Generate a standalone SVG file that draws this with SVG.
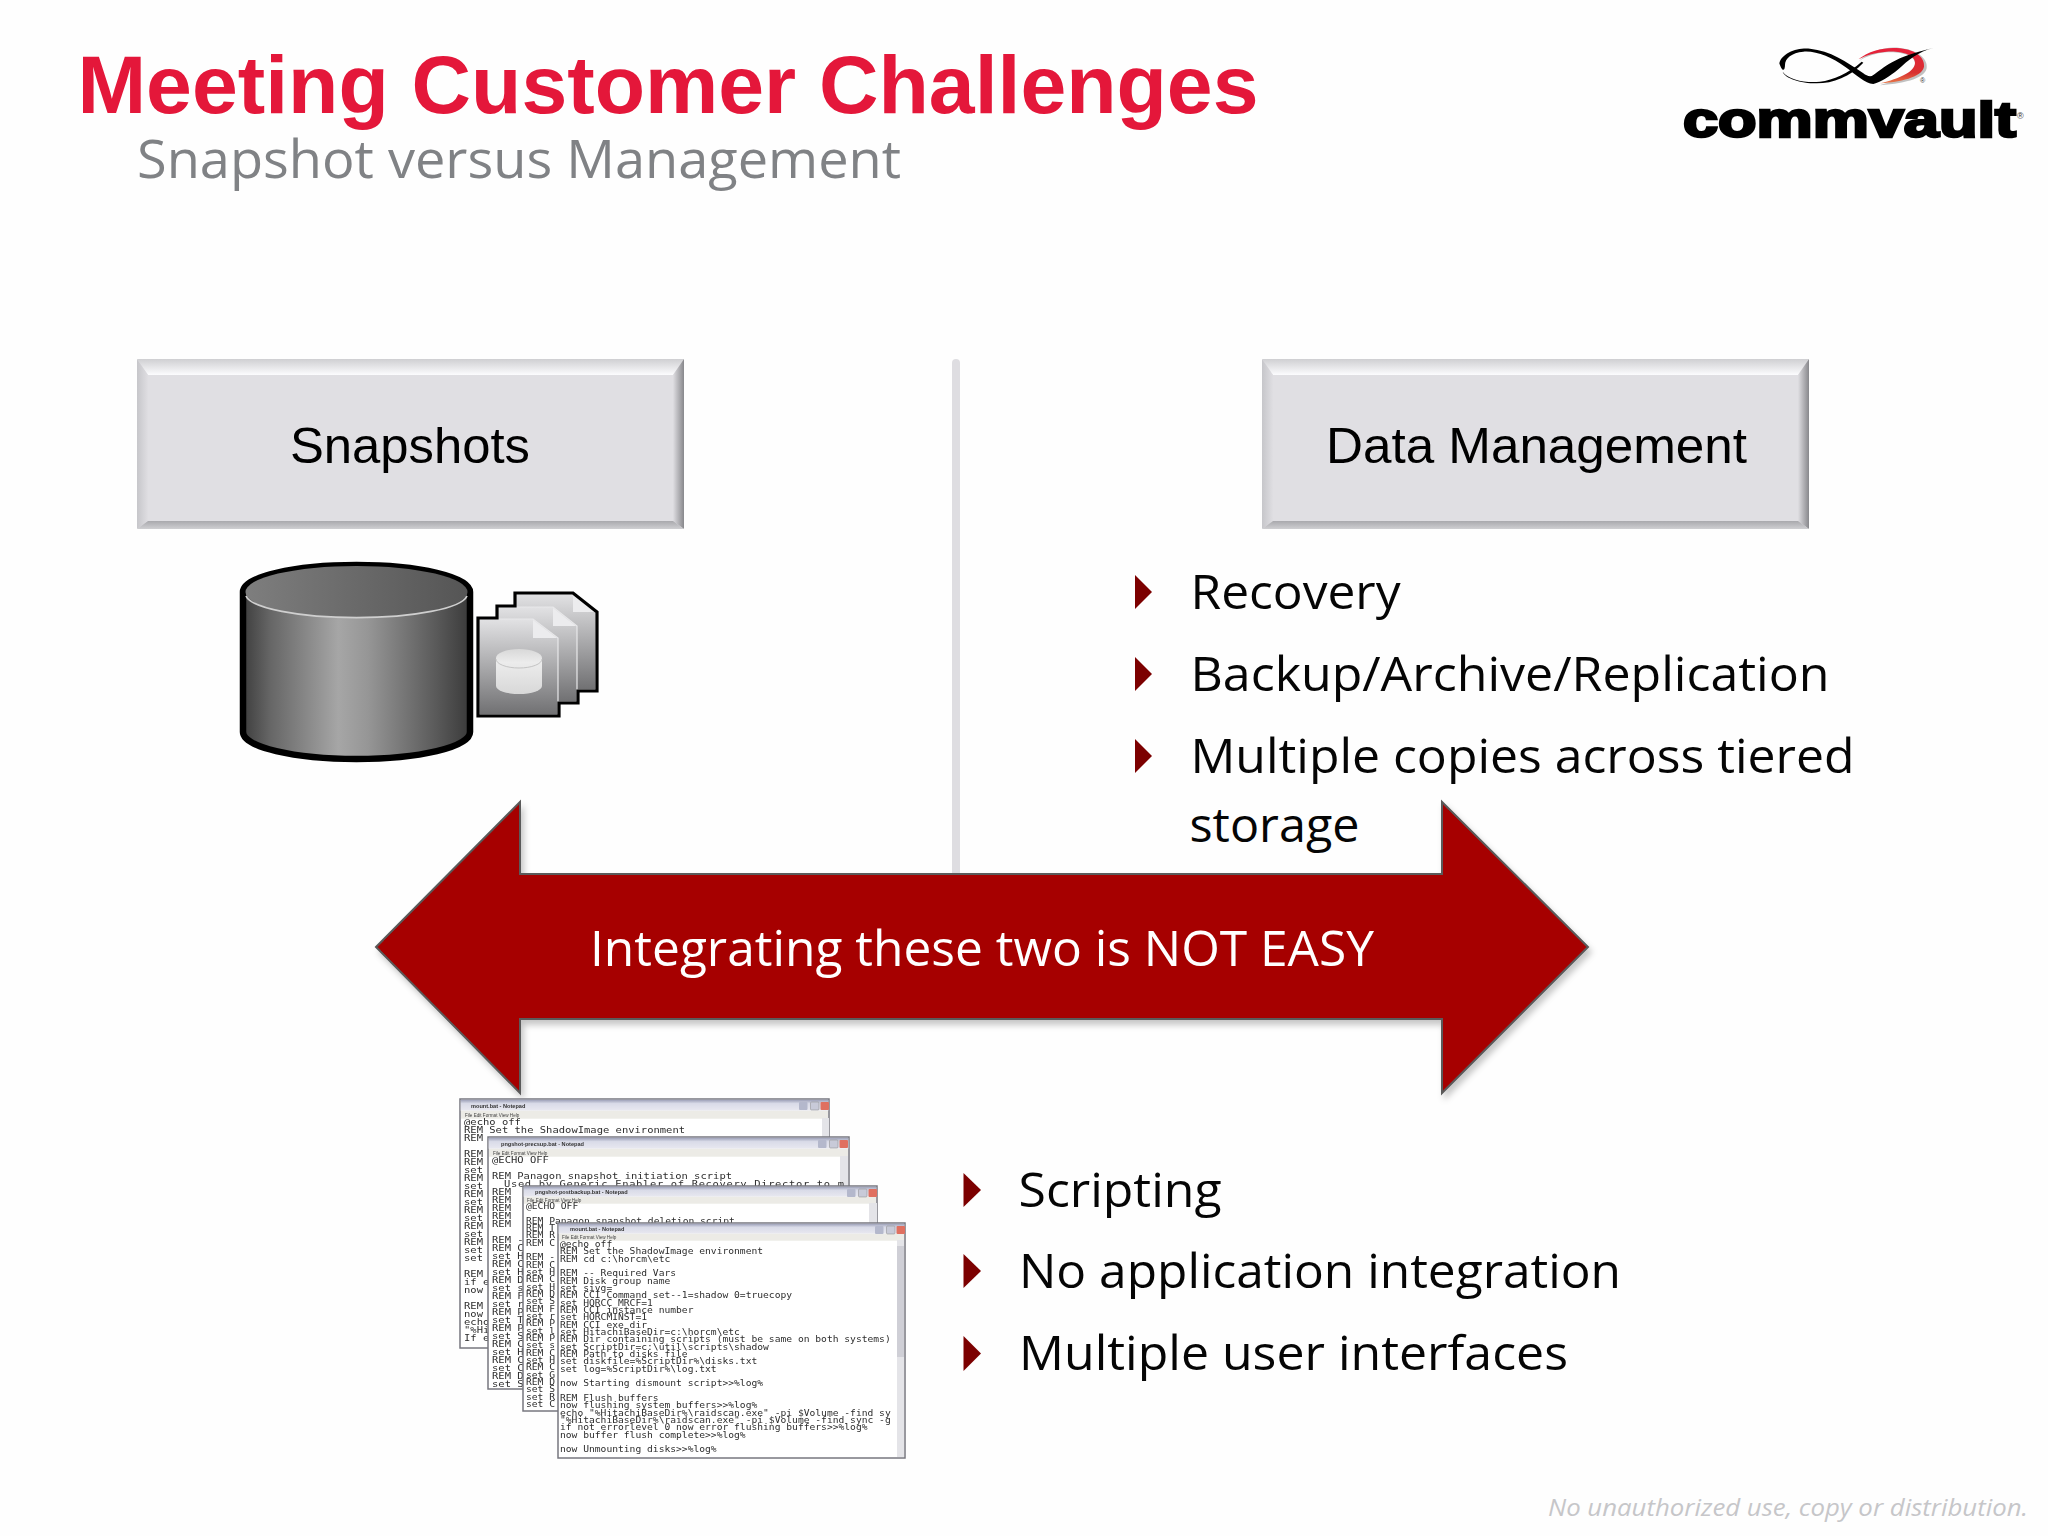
<svg xmlns="http://www.w3.org/2000/svg" width="2048" height="1536" viewBox="0 0 2048 1536">
<style>
.ar{font-family:"Liberation Sans",Arial,sans-serif}
.os{font-family:"Open Sans","Noto Sans",sans-serif}
.bul{font-size:47px;fill:#050505}
.boxt{font-size:50.5px;fill:#000}
.tri{fill:#7c0000}
.mono{font-family:"DejaVu Sans Mono","Liberation Mono",monospace;fill:#2e2e2e}
.wbody{fill:#fff;stroke:#77777f;stroke-width:1.5}
.ttl{font-family:"Liberation Sans",sans-serif;font-size:5.6px;font-weight:bold;fill:#333}
.menu{font-family:"Liberation Sans",sans-serif;font-size:4.6px;fill:#444}
.sb{fill:#e4e4e8}
.doc{fill:url(#docg);stroke:#e8e8ea;stroke-width:1.2}
.fold{fill:#ececee}
</style>
<defs>
<linearGradient id="tb" x1="0" y1="0" x2="0" y2="1"><stop offset="0" stop-color="#9a9eb6"/><stop offset=".35" stop-color="#d9dbe8"/><stop offset="1" stop-color="#e8e8f0"/></linearGradient>
<linearGradient id="bt" x1="0" y1="0" x2="0" y2="1"><stop offset="0" stop-color="#cfcfd2"/><stop offset="1" stop-color="#fcfcfe"/></linearGradient>
<linearGradient id="bl" x1="0" y1="0" x2="1" y2="0"><stop offset="0" stop-color="#c6c6ca"/><stop offset="1" stop-color="#dfdee2"/></linearGradient>
<linearGradient id="br" x1="0" y1="0" x2="1" y2="0"><stop offset="0" stop-color="#dfdee2"/><stop offset="1" stop-color="#88888c"/></linearGradient>
<linearGradient id="bb" x1="0" y1="0" x2="0" y2="1"><stop offset="0" stop-color="#a9a9ad"/><stop offset="1" stop-color="#cfcfd2"/></linearGradient>
<linearGradient id="cyl" x1="0" y1="0" x2="1" y2="0"><stop offset="0" stop-color="#3e3e3e"/><stop offset=".12" stop-color="#666"/><stop offset=".42" stop-color="#a6a6a6"/><stop offset=".55" stop-color="#969696"/><stop offset=".85" stop-color="#5a5a5a"/><stop offset="1" stop-color="#3a3a3a"/></linearGradient>
<linearGradient id="cyt" x1="0" y1="0" x2="1" y2="0"><stop offset="0" stop-color="#7e7e7e"/><stop offset="1" stop-color="#555"/></linearGradient>
<linearGradient id="docg" x1="0" y1="0" x2="0" y2="1"><stop offset="0" stop-color="#e2e2e4"/><stop offset="1" stop-color="#707072"/></linearGradient>
<linearGradient id="mini" x1="0" y1="0" x2="0" y2="1"><stop offset="0" stop-color="#d8d8d8"/><stop offset=".3" stop-color="#ececec"/><stop offset="1" stop-color="#d8d8d8"/></linearGradient>
<linearGradient id="red" x1="0" y1="0" x2="0" y2="1"><stop offset="0" stop-color="#e8203c"/><stop offset=".7" stop-color="#d83030"/><stop offset="1" stop-color="#e87848"/></linearGradient>
<filter id="sh" x="-5%" y="-5%" width="110%" height="112%"><feDropShadow dx="3" dy="5" stdDeviation="3" flood-color="#000" flood-opacity=".22"/></filter>
<filter id="soft" x="-2%" y="-2%" width="104%" height="104%"><feGaussianBlur stdDeviation=".35"/></filter>
<filter id="lb" x="-20%" y="-20%" width="140%" height="140%"><feGaussianBlur stdDeviation="2"/></filter>
<g id="bevel">
<rect width="547" height="170" rx="3" fill="#e0dfe3"/>
<polygon points="0,0 547,0 536,16 11,16" fill="url(#bt)"/>
<polygon points="0,0 11,16 11,162 0,170" fill="url(#bl)"/>
<polygon points="547,0 536,16 536,162 547,170" fill="url(#br)"/>
<polygon points="0,170 11,162 536,162 547,170" fill="url(#bb)"/>
</g>
<g id="btns">
<rect x="-30" y="3" width="8.5" height="8" rx="1" fill="#b4b8cc"/>
<rect x="-18.500" y="3" width="8.500" height="8" rx="1" fill="#c8cad8" stroke="#888" stroke-width=".5"/>
<rect x="-8.500" y="3" width="8.500" height="8" rx="1" fill="#e07060"/>
</g>
</defs>
<rect width="2048" height="1536" fill="#fefefe"/>

<g id="title">
<text class="ar" x="77.500" y="112.500" font-size="82" font-weight="bold" fill="#e4173a" textLength="1181" lengthAdjust="spacingAndGlyphs">Meeting Customer Challenges</text>
<text class="os" x="137" y="178" font-size="53" fill="#808285" textLength="764" lengthAdjust="spacingAndGlyphs">Snapshot versus Management</text>
</g>

<g id="logo">
<g transform="translate(1600 20) scale(.33333)">
<path d="M775 125C810 92 860 78 900 84C955 90 985 118 980 145C975 172 925 190 840 196C900 178 945 158 945 130C945 107 905 94 860 97C825 100 800 108 775 125Z" fill="#999" filter="url(#lb)" opacity=".6"/>
<path d="M775 118C810 90 860 80 900 85C950 90 975 115 972 140C968 165 920 185 840 190C900 175 945 155 945 128C945 105 905 92 860 95C825 98 800 105 775 118Z" fill="url(#red)"/>
<path d="M548 155C565 180 620 190 660 185C700 180 745 160 785 125L790 128C750 170 700 190 650 190C600 190 555 175 548 155Z" fill="#000"/>
<path d="M538 130C545 100 590 82 630 86C690 92 740 125 790 160C800 168 812 172 820 165C850 145 880 110 1000 84C955 95 925 120 895 148C868 170 845 185 820 192C795 190 770 165 735 140C695 112 650 92 610 95C575 98 555 115 555 135C555 150 548 160 538 130Z" fill="#000"/>
</g>
<text class="ar" x="1683" y="136.500" font-size="50" font-weight="bold" fill="#000" stroke="#000" stroke-width="2.600" textLength="333" lengthAdjust="spacingAndGlyphs">commvault</text>
<text class="ar" x="2017" y="119" font-size="9" fill="#333">®</text>
<text class="ar" x="1920" y="83" font-size="7" fill="#333">®</text>
</g>

<g id="connectors">
<rect x="952" y="359" width="8" height="520" rx="4" fill="#dedde1"/>
</g>

<g id="node-snapshots">
<use href="#bevel" x="137" y="359"/>
<text class="ar boxt" x="290" y="463" textLength="240" lengthAdjust="spacingAndGlyphs">Snapshots</text>
</g>

<g id="node-data-management">
<use href="#bevel" x="1262" y="359"/>
<text class="ar boxt" x="1326" y="463" textLength="421" lengthAdjust="spacingAndGlyphs">Data Management</text>
</g>

<g id="storage-icon">
<path d="M243 592A113.500 27 0 0 1 470 592V732A113.500 27 0 0 1 243 732Z" fill="url(#cyl)" stroke="#000" stroke-width="6.500"/>
<ellipse cx="356.500" cy="592" rx="111" ry="26" fill="url(#cyt)"/>
<path d="M246 596A111 24 0 0 0 467 596" fill="none" stroke="#cfcfcf" stroke-width="1.800"/>
<path d="M515 593H573L597 612V691H578V703H559V716H478V618H497V606H515Z" fill="#777"/>
<path class="doc" d="M515 594H573L596 612V690H515Z"/>
<polygon class="fold" points="573,595 595,612 573,612"/>
<path class="doc" d="M497 607H553L577 626V702H497Z"/>
<polygon class="fold" points="553,608 576,626 553,626"/>
<path class="doc" d="M479 619H533L558 638V715H479Z"/>
<polygon class="fold" points="533,620 557,638 533,638"/>
<path d="M496 658A23 9 0 0 1 542 658V686A23 8 0 0 1 496 686Z" fill="url(#mini)"/>
<path d="M496 659A23 9 0 0 0 542 659" fill="none" stroke="#c4c4c4" stroke-width="1"/>
<path d="M515 593H573L597 612V691H578V703H559V716H478V618H497V606H515Z" fill="none" stroke="#000" stroke-width="3.200"/>
</g>

<g id="data-management-list">
<polygon class="tri" points="1135,575 1152,592 1135,609"/>
<text class="os bul" x="1190.500" y="609" textLength="210" lengthAdjust="spacingAndGlyphs">Recovery</text>
<polygon class="tri" points="1135,657 1152,674 1135,691"/>
<text class="os bul" x="1190.500" y="691" textLength="639" lengthAdjust="spacingAndGlyphs">Backup/Archive/Replication</text>
<polygon class="tri" points="1135,739 1152,756 1135,773"/>
<text class="os bul" x="1190.500" y="773" textLength="664" lengthAdjust="spacingAndGlyphs">Multiple copies across tiered</text>
<text class="os bul" x="1189.500" y="842" textLength="170" lengthAdjust="spacingAndGlyphs">storage</text>
</g>

<g id="integration-arrow">
<polygon points="376,947 520,802 520,874 1442,874 1442,802 1588,947 1442,1093 1442,1019 520,1019 520,1093" fill="#a60000" stroke="#5a5a5a" stroke-width="2" filter="url(#sh)"/>
<text class="os" x="590" y="966" font-size="50" fill="#fff" textLength="784" lengthAdjust="spacingAndGlyphs">Integrating these two is NOT EASY</text>
</g>

<g id="script-windows" filter="url(#soft)">
<g id="window-1">
<rect class="wbody" x="460" y="1099" width="369" height="249"/>
<rect x="460.700" y="1099.700" width="367.600" height="11" fill="url(#tb)"/>
<rect x="461" y="1110.700" width="367" height="8" fill="#ecebe6"/>
<rect class="sb" x="822" y="1118" width="7" height="30"/>
<use href="#btns" x="829" y="1099"/>
<text class="ttl" x="471" y="1107.500">mount.bat - Notepad</text>
<text class="menu" x="465" y="1116.500">File  Edit  Format  View  Help</text>
<text class="mono" font-size="10.500" transform="translate(464 1125) scale(1 .82)"><tspan x="0" y="0">@echo off</tspan><tspan x="0" dy="9.760">REM Set the ShadowImage environment</tspan><tspan x="0" dy="9.760">REM</tspan><tspan x="0" dy="19.520">REM</tspan><tspan x="0" dy="9.760">REM</tspan><tspan x="0" dy="9.760">set</tspan><tspan x="0" dy="9.760">REM</tspan><tspan x="0" dy="9.760">set</tspan><tspan x="0" dy="9.760">REM</tspan><tspan x="0" dy="9.760">set</tspan><tspan x="0" dy="9.760">REM</tspan><tspan x="0" dy="9.760">set</tspan><tspan x="0" dy="9.760">REM</tspan><tspan x="0" dy="9.760">set</tspan><tspan x="0" dy="9.760">REM</tspan><tspan x="0" dy="9.760">set</tspan><tspan x="0" dy="9.760">set</tspan><tspan x="0" dy="19.520">REM</tspan><tspan x="0" dy="9.760">if e</tspan><tspan x="0" dy="9.760">now</tspan><tspan x="0" dy="19.520">REM</tspan><tspan x="0" dy="9.760">now</tspan><tspan x="0" dy="9.760">echo</tspan><tspan x="0" dy="9.760">"%Hi</tspan><tspan x="0" dy="9.760">If e</tspan></text>
</g>
<g id="window-2">
<rect class="wbody" x="488" y="1137" width="361" height="252"/>
<rect x="488.700" y="1137.700" width="359.600" height="11" fill="url(#tb)"/>
<rect x="489" y="1148.700" width="359" height="8" fill="#ecebe6"/>
<rect class="sb" x="840" y="1156" width="8" height="32"/>
<use href="#btns" x="848" y="1137"/>
<text class="ttl" x="501" y="1145.500">pngshot-precsup.bat - Notepad</text>
<text class="menu" x="493" y="1154.500">File  Edit  Format  View  Help</text>
<text class="mono" font-size="10.500" transform="translate(492 1163) scale(1 .82)"><tspan x="0" y="0">@ECHO OFF</tspan><tspan x="0" dy="19.520">REM Panagon snapshot initiation script</tspan></text>
<text class="mono" font-size="10.500" transform="translate(492 1195) scale(1 .82)"><tspan x="0" y="0">REM</tspan><tspan x="0" dy="9.760">REM</tspan><tspan x="0" dy="9.760">REM</tspan><tspan x="0" dy="9.760">REM</tspan><tspan x="0" dy="9.760">REM</tspan><tspan x="0" dy="19.520">REM -</tspan><tspan x="0" dy="9.760">REM C</tspan><tspan x="0" dy="9.760">set H</tspan><tspan x="0" dy="9.760">REM C</tspan><tspan x="0" dy="9.760">set H</tspan><tspan x="0" dy="9.760">REM D</tspan><tspan x="0" dy="9.760">set s</tspan><tspan x="0" dy="9.760">REM F</tspan><tspan x="0" dy="9.760">set r</tspan><tspan x="0" dy="9.760">REM P</tspan><tspan x="0" dy="9.760">set T</tspan><tspan x="0" dy="9.760">REM P</tspan><tspan x="0" dy="9.760">set S</tspan><tspan x="0" dy="9.760">REM C</tspan><tspan x="0" dy="9.760">set H</tspan><tspan x="0" dy="9.760">REM C</tspan><tspan x="0" dy="9.760">set C</tspan><tspan x="0" dy="9.760">REM D</tspan><tspan x="0" dy="9.760">set S</tspan></text>
<text class="mono" font-size="10.500" transform="translate(504 1187) scale(1 .82)" textLength="340" lengthAdjust="spacing">Used by Generic Enabler of Recovery Director to m</text>
</g>
<g id="window-3">
<rect class="wbody" x="523" y="1186" width="354" height="225"/>
<rect x="523.700" y="1186.700" width="352.600" height="10" fill="url(#tb)"/>
<rect x="524" y="1196.700" width="352" height="7" fill="#ecebe6"/>
<rect class="sb" x="869" y="1203" width="8" height="20"/>
<use href="#btns" x="877" y="1186"/>
<text class="ttl" x="535" y="1193.500">pngshot-postbackup.bat - Notepad</text>
<text class="menu" x="527" y="1201.500">File  Edit  Format  View  Help</text>
<text class="mono" font-size="9.650" transform="translate(526 1209) scale(1 .82)"><tspan x="0" y="0">@ECHO OFF</tspan><tspan x="0" dy="17.880">REM Panagon snapshot deletion script</tspan><tspan x="0" dy="8.940">REM T</tspan><tspan x="0" dy="8.940">REM R</tspan><tspan x="0" dy="8.940">REM C</tspan><tspan x="0" dy="17.880">REM -</tspan><tspan x="0" dy="8.940">REM C</tspan><tspan x="0" dy="8.940">set H</tspan><tspan x="0" dy="8.940">REM C</tspan><tspan x="0" dy="8.940">set H</tspan><tspan x="0" dy="8.940">REM D</tspan><tspan x="0" dy="8.940">set S</tspan><tspan x="0" dy="8.940">REM F</tspan><tspan x="0" dy="8.940">set r</tspan><tspan x="0" dy="8.940">REM P</tspan><tspan x="0" dy="8.940">set l</tspan><tspan x="0" dy="8.940">REM P</tspan><tspan x="0" dy="8.940">set s</tspan><tspan x="0" dy="8.940">REM C</tspan><tspan x="0" dy="8.940">set H</tspan><tspan x="0" dy="8.940">REM C</tspan><tspan x="0" dy="8.940">set G</tspan><tspan x="0" dy="8.940">REM D</tspan><tspan x="0" dy="8.940">set S</tspan><tspan x="0" dy="8.940">set R</tspan><tspan x="0" dy="8.940">set C</tspan></text>
</g>
<g id="window-4">
<rect class="wbody" x="558" y="1223" width="347" height="235"/>
<rect x="558.700" y="1223.700" width="345.600" height="10" fill="url(#tb)"/>
<rect x="559" y="1233.700" width="345" height="7" fill="#ecebe6"/>
<rect class="sb" x="897" y="1240" width="7" height="217"/>
<rect x="897" y="1246" width="7" height="111" fill="#cfcfd6"/>
<use href="#btns" x="905" y="1223"/>
<text class="ttl" x="570" y="1230.500">mount.bat - Notepad</text>
<text class="menu" x="562" y="1238.500">File  Edit  Format  View  Help</text>
<text class="mono" font-size="9.650" transform="translate(560 1247) scale(1 .82)"><tspan x="0" y="0">@echo off</tspan><tspan x="0" dy="8.940">REM Set the ShadowImage environment</tspan><tspan x="0" dy="8.940">REM cd c:\horcm\etc</tspan><tspan x="0" dy="17.880">REM -- Required Vars</tspan><tspan x="0" dy="8.940">REM Disk group name</tspan><tspan x="0" dy="8.940">set sivg=</tspan><tspan x="0" dy="8.940">REM CCI Command set--1=shadow 0=truecopy</tspan><tspan x="0" dy="8.940">set HORCC_MRCF=1</tspan><tspan x="0" dy="8.940">REM CCI instance number</tspan><tspan x="0" dy="8.940">set HORCMINST=1</tspan><tspan x="0" dy="8.940">REM CCI exe dir</tspan><tspan x="0" dy="8.940">set HitachiBaseDir=c:\horcm\etc</tspan><tspan x="0" dy="8.940">REM Dir containing scripts (must be same on both systems)</tspan><tspan x="0" dy="8.940">set ScriptDir=c:\util\scripts\shadow</tspan><tspan x="0" dy="8.940">REM Path to disks file</tspan><tspan x="0" dy="8.940">set diskfile=%ScriptDir%\disks.txt</tspan><tspan x="0" dy="8.940">set log=%ScriptDir%\log.txt</tspan><tspan x="0" dy="17.880">now Starting dismount script&gt;&gt;%log%</tspan><tspan x="0" dy="17.880">REM Flush buffers</tspan><tspan x="0" dy="8.940">now flushing system buffers&gt;&gt;%log%</tspan><tspan x="0" dy="8.940">echo "%HitachiBaseDir%\raidscan.exe" -pi $Volume -find sy</tspan><tspan x="0" dy="8.940">"%HitachiBaseDir%\raidscan.exe" -pi $Volume -find sync -g</tspan><tspan x="0" dy="8.940">if not errorlevel 0 now error flushing buffers&gt;&gt;%log%</tspan><tspan x="0" dy="8.940">now buffer flush complete&gt;&gt;%log%</tspan><tspan x="0" dy="17.880">now Unmounting disks&gt;&gt;%log%</tspan></text>
</g>
</g>

<g id="scripting-list">
<polygon class="tri" points="963.500,1173 981,1190 963.500,1207"/>
<text class="os bul" x="1018.500" y="1207" textLength="203" lengthAdjust="spacingAndGlyphs">Scripting</text>
<polygon class="tri" points="963.500,1254 981,1271 963.500,1288"/>
<text class="os bul" x="1019" y="1288" textLength="602" lengthAdjust="spacingAndGlyphs">No application integration</text>
<polygon class="tri" points="963.500,1336 981,1353.500 963.500,1371"/>
<text class="os bul" x="1019" y="1370" textLength="549" lengthAdjust="spacingAndGlyphs">Multiple user interfaces</text>
</g>

<text class="os" x="1548" y="1516" font-size="24" font-style="italic" fill="#c6c6c9" textLength="480" lengthAdjust="spacingAndGlyphs">No unauthorized use, copy or distribution.</text>
</svg>
